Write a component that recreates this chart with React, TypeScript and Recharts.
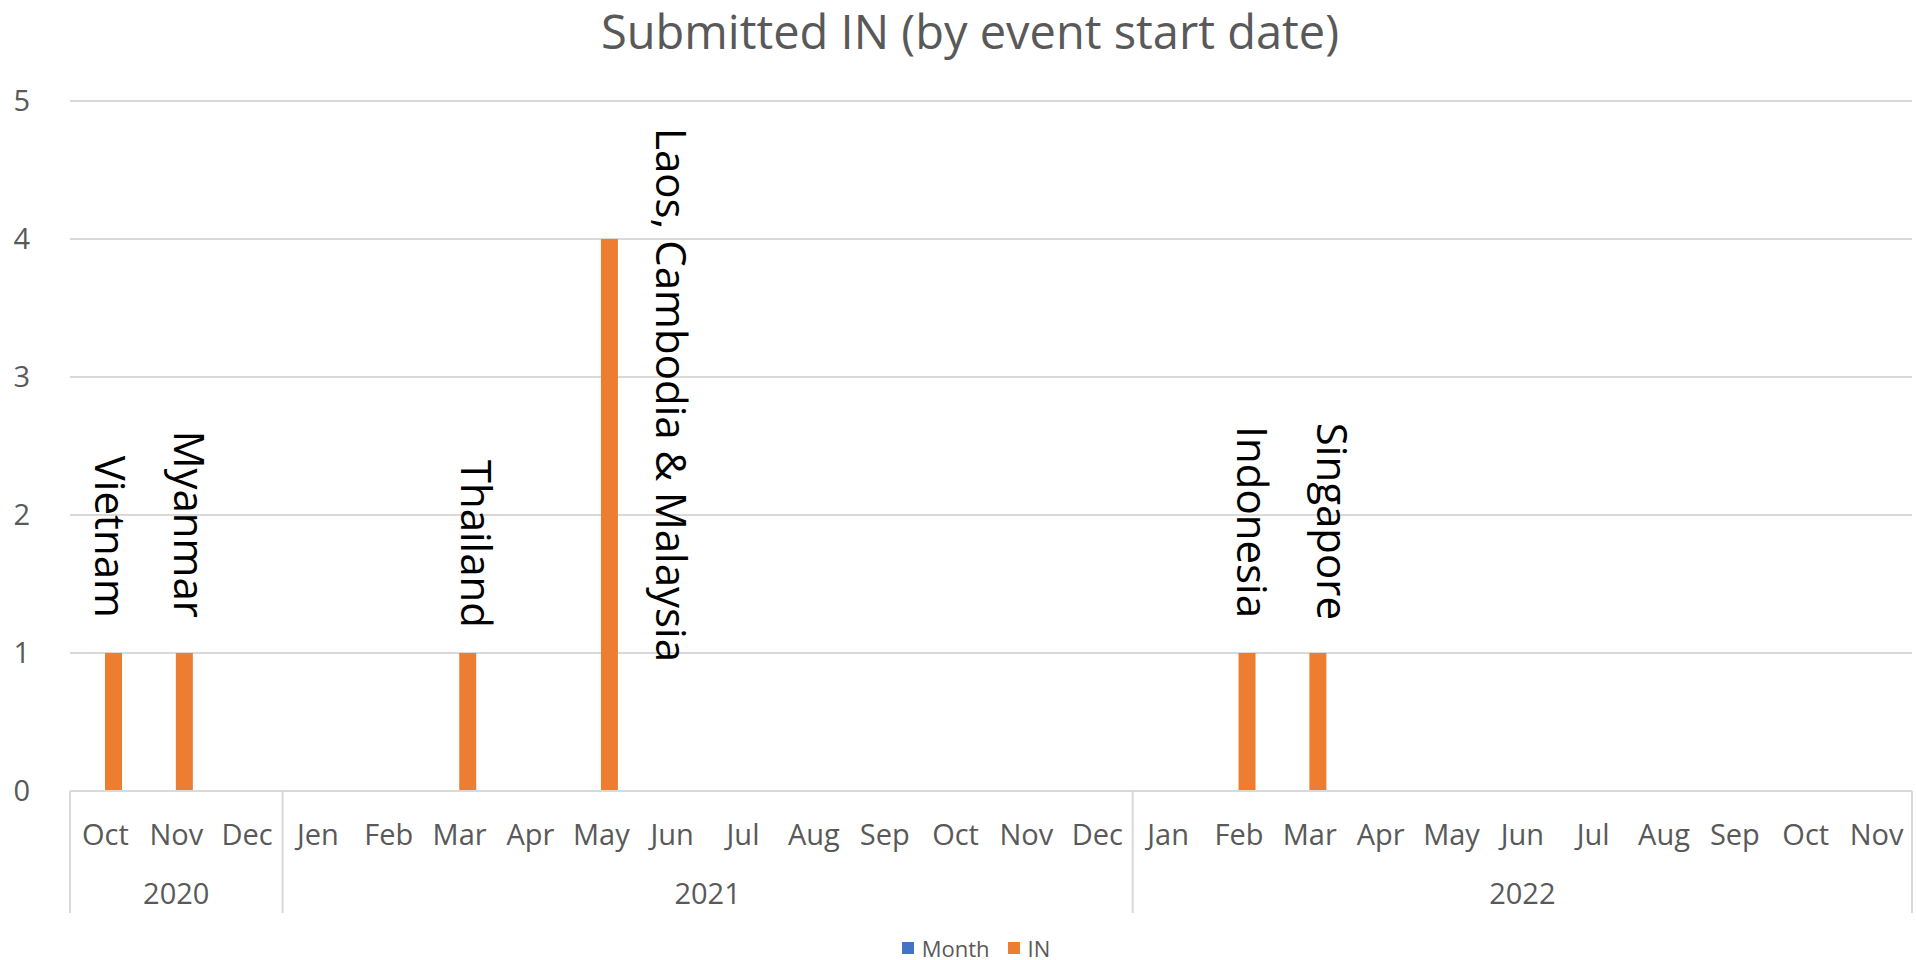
import React from "react";
import { BarChart, Bar, XAxis, YAxis, CartesianGrid, Legend, LabelList } from "recharts";

// month categories, Oct 2020 .. Nov 2022 (the "Jen" spelling is as in the original)
const monthLabels = [
  "Oct", "Nov", "Dec",
  "Jen", "Feb", "Mar", "Apr", "May", "Jun", "Jul", "Aug", "Sep", "Oct", "Nov", "Dec",
  "Jan", "Feb", "Mar", "Apr", "May", "Jun", "Jul", "Aug", "Sep", "Oct", "Nov",
];
const yearLabels = ["2020", "2021", "2022"];
const monthsPerYear = [3, 12, 11];

// series
const monthValues = [
  null, null, null,
  null, null, null, null, null, null, null, null, null, null, null, null,
  null, null, null, null, null, null, null, null, null, null, null,
];
const inValues = [
  1, 1, null,
  null, null, 1, null, 4, null, null, null, null, null, null, null,
  null, 1, 1, null, null, null, null, null, null, null, null,
];
const eventLabels = [
  "Vietnam", "Myanmar", null,
  null, null, "Thailand", null, "Laos, Cambodia & Malaysia", null, null, null, null, null, null, null,
  null, "Indonesia", "Singapore", null, null, null, null, null, null, null, null,
];
const yTicks = [0, 1, 2, 3, 4, 5];

const seriesNames = ["Month", "IN"];
const seriesColors = ["#4472C4", "#ED7D31"];

const CHART_W = 1916;
const CHART_H = 960;
const MARGIN = { top: 101, right: 4, bottom: 0, left: 0 };
const Y_AXIS_W = 70;
const X_AXIS_H = 145;
const LEGEND_H = 24;
const FONT = "'Open Sans', 'Noto Sans', sans-serif";
const GRAY = "#595959";
const GRID = "#D9D9D9";
const LABEL_SIZE = 42;
const BAND = (CHART_W - MARGIN.left - MARGIN.right - Y_AXIS_W) / monthLabels.length;

// hand-dragged label positions in the original (px nudges, style only)
const LABEL_NUDGE: Record<string, [number, number]> = {
  Vietnam: [0, 0],
  Myanmar: [9, 0],
  Thailand: [12, 10],
  "Laos, Cambodia & Malaysia": [65, 0],
  Indonesia: [9, 0],
  Singapore: [18, 2],
};

const data = monthLabels.map((m, i) => ({
  idx: i,
  month: m,
  Month: monthValues[i],
  IN: inValues[i],
  label: eventLabels[i],
}));

// first index of each year group
const groupStarts: number[] = [];
monthsPerYear.reduce((acc, n) => {
  groupStarts.push(acc);
  return acc + n;
}, 0);

const measureCtx =
  typeof document !== "undefined" ? document.createElement("canvas").getContext("2d") : null;
function textWidth(s: string, font: string) {
  if (!measureCtx) return s.length * 20;
  measureCtx.font = font;
  return measureCtx.measureText(s).width;
}

/** rotated data label, reads top to bottom, sits above the bar and is kept inside the plot */
function EventLabel(props: any) {
  const { x, y, width, value } = props;
  if (!value) return null;
  const [dx, dy] = LABEL_NUDGE[value] || [0, 0];
  const cx = Number(x) + Number(width) / 2;
  const len = textWidth(String(value), `${LABEL_SIZE}px 'Open Sans'`);
  let start = Number(y) - 35 - len;
  const minStart = MARGIN.top + 27;
  if (start < minStart) start = minStart;
  start += dy;
  const bx = cx - LABEL_SIZE * 0.45 + dx;
  return (
    <text
      x={bx}
      y={start}
      transform={`rotate(90 ${bx} ${start})`}
      fontFamily={FONT}
      fontSize={LABEL_SIZE}
      fill="#000"
    >
      {value}
    </text>
  );
}

/** month label plus the year row and group separators */
function MonthTick(props: any) {
  const { x, y, payload } = props;
  const i = Number(payload.value);
  const g = groupStarts.indexOf(i);
  const last = i === monthLabels.length - 1;
  return (
    <g>
      <text x={x} y={y + 44} dy="0.355em" textAnchor="middle" fontFamily={FONT} fontSize={29} fill={GRAY}>
        {monthLabels[i]}
      </text>
      {g >= 0 && (
        <>
          <line x1={x - BAND / 2} x2={x - BAND / 2} y1={y} y2={y + 122} stroke={GRID} strokeWidth={2} />
          <text
            x={x + ((monthsPerYear[g] - 1) / 2) * BAND}
            y={y + 103}
            dy="0.355em"
            textAnchor="middle"
            fontFamily={FONT}
            fontSize={29}
            fill={GRAY}
          >
            {yearLabels[g]}
          </text>
        </>
      )}
      {last && <line x1={x + BAND / 2} x2={x + BAND / 2} y1={y} y2={y + 122} stroke={GRID} strokeWidth={2} />}
    </g>
  );
}

function LegendContent() {
  return (
    <div
      style={{
        display: "flex",
        justifyContent: "center",
        alignItems: "center",
        height: LEGEND_H,
        paddingLeft: 58,
        fontFamily: FONT,
        fontSize: 22,
        color: GRAY,
      }}
    >
      {seriesNames.map((n, i) => (
        <span key={n} style={{ display: "flex", alignItems: "center", marginRight: 18 }}>
          <span style={{ width: 12, height: 12, background: seriesColors[i], marginRight: 8 }} />
          {n}
        </span>
      ))}
    </div>
  );
}

export default function App() {
  return (
    <div style={{ position: "absolute", left: 0, top: 0, width: CHART_W, height: CHART_H, background: "#fff" }}>
      <div
        style={{
          position: "absolute",
          top: 6,
          left: 0,
          width: CHART_W,
          boxSizing: "border-box",
          paddingLeft: 24,
          textAlign: "center",
          fontFamily: FONT,
          fontSize: 47,
          lineHeight: "50px",
          color: GRAY,
        }}
      >
        Submitted IN (by event start date)
      </div>
      <BarChart width={CHART_W} height={CHART_H} data={data} margin={MARGIN} barGap={0}>
        <CartesianGrid vertical={false} stroke={GRID} strokeWidth={2} />
        <XAxis
          dataKey="idx"
          interval={0}
          height={X_AXIS_H}
          tickLine={false}
          tickSize={0}
          tickMargin={0}
          axisLine={{ stroke: GRID, strokeWidth: 2 }}
          tick={<MonthTick />}
        />
        <YAxis
          domain={[0, 5]}
          ticks={yTicks}
          width={Y_AXIS_W}
          axisLine={false}
          tickLine={false}
          tickSize={0}
          tickMargin={40}
          tick={{ fill: GRAY, fontSize: 29, fontFamily: FONT }}
        />
        <Legend verticalAlign="bottom" height={LEGEND_H} content={<LegendContent />} />
        <Bar dataKey="Month" fill={seriesColors[0]} barSize={17} isAnimationActive={false} />
        <Bar dataKey="IN" fill={seriesColors[1]} barSize={17} isAnimationActive={false}>
          <LabelList dataKey="label" content={<EventLabel />} />
        </Bar>
      </BarChart>
    </div>
  );
}
